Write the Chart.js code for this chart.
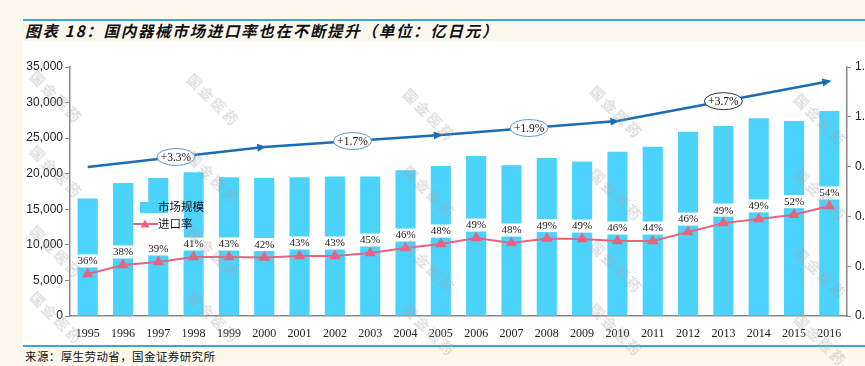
<!DOCTYPE html>
<html>
<head>
<meta charset="utf-8">
<script src="https://cdn.jsdelivr.net/npm/chart.js@4.4.1/dist/chart.umd.min.js"></script>
<style>
  html, body { margin: 0; padding: 0; }
  body {
    width: 865px; height: 366px; overflow: hidden; position: relative;
    background: #fcf8ee;
    font-family: "Noto Sans CJK SC", sans-serif;
  }
  .rule { position: absolute; left: 23px; width: 842px; height: 2px; background: #3aa7dc; }
  .title {
    position: absolute; left: 25px; top: 19px;
    font-size: 15.5px; line-height: 22px; font-weight: bold; font-style: italic;
    letter-spacing: 1.7px; color: #111; white-space: nowrap;
  }
  .panel { position: absolute; left: 23px; top: 41px; width: 842px; height: 304px; background: #fff; }
  .chart-box { position: absolute; left: 23px; top: 40px; width: 880px; height: 305px; }
  .source {
    position: absolute; left: 25px; top: 348px;
    font-size: 11.5px; line-height: 16px; letter-spacing: 0.4px; color: #111; white-space: nowrap;
  }
  .wm {
    position: absolute; font-size: 14px; letter-spacing: 3px; white-space: nowrap;
    color: rgba(255, 255, 255, 0.1);
    -webkit-text-stroke: 0.5px rgba(150, 150, 150, 0.45);
    transform: translate(-50%, -50%) rotate(45deg);
    pointer-events: none;
  }
</style>
</head>
<body>
  <div class="rule" style="top:19px"></div>
  <div class="title">图表 18：国内器械市场进口率也在不断提升（单位：亿日元）</div>
  <div class="panel"></div>
  <div class="chart-box"><canvas id="importChart" width="880" height="305"></canvas></div>
  <div class="rule" style="top:345px"></div>
  <div class="source">来源：厚生劳动省，国金证券研究所</div>
  <div id="watermarks"></div>

<script>
// ─── DATA ──────────────────────────────────────────────────────
const years = ['1995', '1996', '1997', '1998', '1999', '2000', '2001', '2002', '2003', '2004', '2005',
  '2006', '2007', '2008', '2009', '2010', '2011', '2012', '2013', '2014', '2015', '2016'];

// 市场规模（亿日元）
const marketSize = [16500, 18700, 19400, 20200, 19500, 19400, 19500, 19600, 19600, 20500, 21100,
  22500, 21200, 22200, 21700, 23100, 23800, 25900, 26700, 27800, 27400, 28800];

// 进口率（右轴位置）
const importRate = [0.369, 0.405, 0.417, 0.437, 0.437, 0.435, 0.441, 0.441, 0.453, 0.473, 0.489,
  0.513, 0.493, 0.511, 0.509, 0.501, 0.501, 0.537, 0.573, 0.590, 0.607, 0.642];

const rateLabels = ['36%', '38%', '39%', '41%', '43%', '42%', '43%', '43%', '45%', '46%', '48%',
  '49%', '48%', '49%', '49%', '46%', '44%', '46%', '49%', '49%', '52%', '54%'];

// 趋势箭头（左轴）
const trendValues = [20950, null, null, null, null, 23750, null, null, null, null, 25450,
  null, null, null, null, 27400, null, null, null, null, null, 33000];

const growthLabels = ['+3.3%', '+1.7%', '+1.9%', '+3.7%'];

const leftTicks = { min: 0, max: 35000, step: 5000 };
const rightTicks = { min: 0.2, max: 1.2, step: 0.2 };

// ─── COLORS ────────────────────────────────────────────────────
const BAR_COLOR = '#4cd3fc';
const RATE_COLOR = '#e7637f';
const TREND_COLOR = '#1a6db5';
const AXIS_COLOR = '#8a8a8a';

// ─── WATERMARKS ────────────────────────────────────────────────
const wmSpots = [
  [57, 97], [57, 172], [57, 252], [57, 318],
  [214, 100], [214, 178], [214, 253], [214, 317],
  [430, 115], [430, 192], [430, 267], [430, 330],
  [617, 112], [617, 195], [617, 267], [617, 330],
  [821, 120], [821, 195], [821, 273], [821, 340]
];
document.getElementById('watermarks').innerHTML = wmSpots
  .map(([x, y]) => `<div class="wm" style="left:${x}px;top:${y}px">国金医药</div>`).join('');

// ─── OVERLAY PLUGIN: labels, arrows, legend ────────────────────
const overlayPlugin = {
  id: 'overlay',
  afterDatasetsDraw(chart) {
    const ctx = chart.ctx;
    const rateMeta = chart.getDatasetMeta(0);
    const trendMeta = chart.getDatasetMeta(1);
    ctx.save();

    // legend (white box over bars)
    ctx.fillStyle = '#fff';
    ctx.fillRect(111, 173, 50, 32);
    ctx.fillStyle = BAR_COLOR;
    ctx.fillRect(117, 162, 9, 11);
    ctx.strokeStyle = RATE_COLOR;
    ctx.lineWidth = 2;
    ctx.beginPath();
    ctx.moveTo(110, 184);
    ctx.lineTo(135, 184);
    ctx.stroke();
    drawTriangle(ctx, 122, 184, 4.5, RATE_COLOR);
    ctx.fillStyle = '#111';
    ctx.font = '11.5px "Noto Sans CJK SC"';
    ctx.textAlign = 'left';
    ctx.textBaseline = 'middle';
    ctx.fillText('市场规模', 135, 167);
    ctx.fillText('进口率', 135, 184);

    // rate labels
    ctx.font = '11px "Liberation Serif"';
    ctx.textAlign = 'center';
    rateMeta.data.forEach((pt, i) => {
      const w = ctx.measureText(rateLabels[i]).width + 4;
      const cy = pt.y - 13;
      ctx.fillStyle = '#fff';
      ctx.fillRect(pt.x - w / 2, cy - 6.5, w, 13);
      ctx.fillStyle = '#222';
      ctx.fillText(rateLabels[i], pt.x, cy + 0.5);
    });

    // trend arrows + growth ellipses
    const pts = trendMeta.data.filter((p, i) => trendValues[i] !== null);
    for (let k = 1; k < pts.length; k++) {
      const a = pts[k - 1], b = pts[k];
      const ang = Math.atan2(b.y - a.y, b.x - a.x);
      ctx.save();
      ctx.translate(b.x, b.y);
      ctx.rotate(ang);
      ctx.fillStyle = TREND_COLOR;
      ctx.beginPath();
      ctx.moveTo(2, 0);
      ctx.lineTo(-7, -4);
      ctx.lineTo(-7, 4);
      ctx.closePath();
      ctx.fill();
      ctx.restore();

      const cx = (a.x + b.x) / 2, cy = (a.y + b.y) / 2;
      ctx.beginPath();
      ctx.ellipse(cx, cy, 19, 8.5, 0, 0, Math.PI * 2);
      ctx.fillStyle = '#fff';
      ctx.fill();
      ctx.lineWidth = 1;
      ctx.strokeStyle = k === pts.length - 1 ? '#333' : '#5a9ad6';
      ctx.stroke();
      ctx.fillStyle = '#111';
      ctx.font = '11.5px "Liberation Serif"';
      ctx.fillText(growthLabels[k - 1], cx, cy + 0.5);
    }
    ctx.restore();
  }
};

function drawTriangle(ctx, x, y, r, color) {
  ctx.fillStyle = color;
  ctx.beginPath();
  ctx.moveTo(x, y - r);
  ctx.lineTo(x + r, y + r * 0.8);
  ctx.lineTo(x - r, y + r * 0.8);
  ctx.closePath();
  ctx.fill();
}

// ─── CHART ─────────────────────────────────────────────────────
new Chart(document.getElementById('importChart'), {
  data: {
    labels: years,
    datasets: [
      {
        type: 'line',
        label: '进口率',
        data: importRate,
        yAxisID: 'y2',
        borderColor: RATE_COLOR,
        borderWidth: 2,
        pointStyle: 'triangle',
        pointRadius: 4.5,
        pointBackgroundColor: RATE_COLOR,
        pointBorderColor: RATE_COLOR,
        tension: 0,
        order: 0
      },
      {
        type: 'line',
        label: 'trend',
        data: trendValues,
        yAxisID: 'y',
        borderColor: TREND_COLOR,
        borderWidth: 2.5,
        pointRadius: 0,
        spanGaps: true,
        tension: 0,
        order: 1
      },
      {
        type: 'bar',
        label: '市场规模',
        data: marketSize,
        yAxisID: 'y',
        backgroundColor: BAR_COLOR,
        categoryPercentage: 1,
        barPercentage: 0.57,
        order: 2
      }
    ]
  },
  options: {
    responsive: false,
    animation: false,
    events: [],
    layout: { padding: { top: 27, right: 16, bottom: 7, left: 0 } },
    plugins: { legend: { display: false }, tooltip: { enabled: false } },
    scales: {
      x: {
        grid: { display: false },
        border: { display: true, color: AXIS_COLOR, width: 1.5 },
        ticks: { color: '#222', font: { family: 'Liberation Serif', size: 12 }, padding: 3, maxRotation: 0, autoSkip: false },
        afterFit(s) { s.height = 22; }
      },
      y: {
        position: 'left',
        min: leftTicks.min, max: leftTicks.max,
        grid: { drawOnChartArea: false, drawTicks: true, tickLength: 5, color: AXIS_COLOR },
        border: { display: true, color: AXIS_COLOR, width: 1.5 },
        ticks: {
          stepSize: leftTicks.step, color: '#222', padding: 2,
          font: { family: 'Liberation Sans', size: 12 },
          callback: v => v.toLocaleString('en-US')
        },
        afterFit(s) { s.width = 47; }
      },
      y2: {
        position: 'right',
        min: rightTicks.min, max: rightTicks.max,
        grid: { drawOnChartArea: false, drawTicks: true, tickLength: 4, color: AXIS_COLOR },
        border: { display: true, color: AXIS_COLOR, width: 1.5 },
        ticks: {
          stepSize: rightTicks.step, color: '#222', padding: 4,
          font: { family: 'Liberation Sans', size: 12 },
          callback: v => v.toFixed(1)
        },
        afterFit(s) { s.width = 40; }
      }
    }
  },
  plugins: [overlayPlugin]
});
</script>
</body>
</html>
